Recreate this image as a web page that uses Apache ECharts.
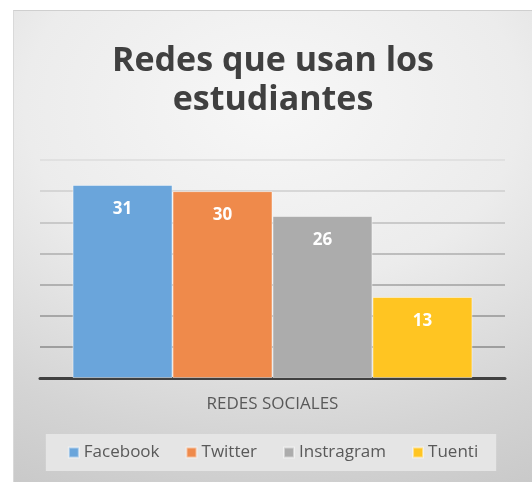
<!DOCTYPE html>
<html>
<head>
<meta charset="utf-8">
<script src="https://cdn.jsdelivr.net/npm/echarts@6/dist/echarts.min.js"></script>
<style>
html, body { margin: 0; padding: 0; background: #fff; }
#chart {
    position: absolute;
    left: 13px;
    top: 10px;
    width: 519px;
    height: 472px;
    border-top: 1px solid #cfcfcf;
    border-left: 1px solid #d9d9d9;
    box-sizing: border-box;
    background: radial-gradient(ellipse 120% 95% at 50% 20%, #f7f7f7 0%, #ececec 40%, #d4d4d4 75%, #c6c6c6 100%);
}
</style>
</head>
<body>
<div id="chart"></div>
<script>
// datos
const categories = ['REDES SOCIALES'];
const seriesNames = ['Facebook', 'Twitter', 'Instragram', 'Tuenti'];
const facebook = [31];
const twitter = [30];
const instagram = [26];
const tuenti = [13];
const colors = ['#6aa5db', '#ef8a4b', '#acacac', '#ffc522'];

const values = [facebook, twitter, instagram, tuenti];
const font = '"Open Sans", sans-serif';

const chart = echarts.init(document.getElementById('chart'));
chart.setOption({
    animation: false,
    title: {
        text: 'Redes que usan los\nestudiantes',
        left: 'center',
        top: 26,
        textStyle: {
            fontFamily: font,
            fontSize: 34,
            fontWeight: 'bold',
            color: '#404040',
            lineHeight: 39
        }
    },
    legend: {
        data: seriesNames,
        bottom: 11,
        left: 'center',
        itemWidth: 10,
        itemHeight: 10,
        itemGap: 26,
        icon: 'rect',
        backgroundColor: '#e5e5e5',
        padding: [10, 18, 10, 22],
        textStyle: {
            fontFamily: font,
            fontSize: 17,
            color: '#595959'
        }
    },
    grid: {
        left: 26,
        right: 27,
        top: 149,
        bottom: 104
    },
    xAxis: {
        type: 'category',
        data: categories,
        axisLine: { lineStyle: { color: '#404040', width: 3 } },
        axisTick: { show: false },
        axisLabel: {
            margin: 18,
            fontFamily: font,
            fontSize: 17,
            color: '#595959'
        }
    },
    yAxis: {
        type: 'value',
        min: 0,
        max: 35,
        interval: 5,
        axisLabel: { show: false },
        axisLine: { show: false },
        splitLine: {
            lineStyle: {
                width: 1.5,
                color: ['#404040', '#8a8a8a', '#959595', '#a1a1a1', '#aeaeae', '#bebebe', '#cecece', '#dcdcdc']
            }
        }
    },
    series: seriesNames.map(function (name, i) {
        return {
            name: name,
            type: 'bar',
            data: values[i],
            barGap: '0%',
            barCategoryGap: '14%',
            itemStyle: {
                color: colors[i],
                borderColor: 'rgba(255,255,255,0.45)',
                borderWidth: 1
            },
            label: {
                show: true,
                position: 'insideTop',
                distance: 16,
                fontFamily: font,
                fontSize: 17,
                fontWeight: 'bold',
                color: '#ffffff'
            }
        };
    })
});
</script>
</body>
</html>
